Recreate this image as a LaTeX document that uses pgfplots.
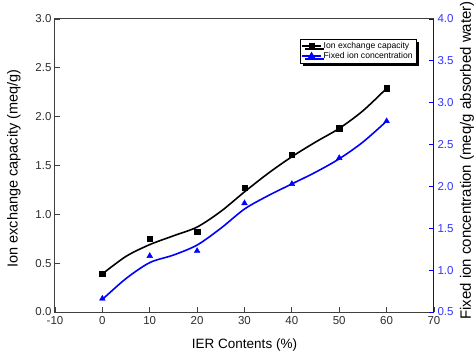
\documentclass[border=0pt]{standalone}
\usepackage{pgfplots}
\pgfplotsset{compat=1.18}
\usepackage{fontspec}
\setmainfont{Liberation Sans}
\usetikzlibrary{shadows}
\definecolor{axgray}{RGB}{64,64,64}
\definecolor{txtgray}{RGB}{45,45,45}
\begin{document}
\begin{tikzpicture}
\useasboundingbox (-55pt,-41pt) rectangle (421pt,312pt);
\begin{axis}[
  at={(0pt,0pt)}, anchor=south west,
  scale only axis, width=379pt, height=293pt,
  xmin=-10, xmax=70, ymin=0, ymax=3,
  xtick={-10,0,...,70}, ytick={0,0.5,...,3},
  /pgf/number format/fixed, /pgf/number format/fixed zerofill,
  /pgf/number format/precision=1,
  xticklabel style={/pgf/number format/precision=0, /pgf/number format/fixed zerofill=false},
  /pgf/number format/assume math mode=true,
  tick align=inside, major tick length=5pt,
  axis line style={axgray, line width=1pt},
  every tick/.style={axgray, line width=0.9pt},
  ticklabel style={font=\fontsize{11.5}{13}\selectfont, text=txtgray},
  xticklabel style={yshift=-1pt},
  xtick pos=bottom, ytick pos=left,
  xlabel={IER Contents (\%)}, ylabel={Ion exchange capacity (meq/g)},
  xlabel style={font=\fontsize{13.5}{15}\selectfont, text=black,
    at={(axis description cs:0.5,0)}, anchor=center, yshift=-33pt},
  ylabel style={font=\fontsize{14.5}{16}\selectfont, text=black,
    at={(axis description cs:0,0.5)}, anchor=center, yshift=41pt, xshift=-3pt},
  legend style={at={(0.646,0.932)}, anchor=north west, draw=black, line width=0.6pt,
    fill=white, font=\fontsize{8.6}{10}\selectfont, inner sep=1.2pt, row sep=-2pt,
    drop shadow={shadow xshift=3pt, shadow yshift=-3pt, fill=black, opacity=1},
    legend cell align=left},
  legend image code/.code={
    \draw[mark repeat=2, mark phase=2] plot coordinates {(0cm,0cm) (0.33cm,0cm) (0.66cm,0cm)};},
]
\addplot[black, line width=1.6pt, smooth, forget plot] coordinates {
(0,0.39) (5,0.57) (10,0.69) (15,0.78) (20,0.87) (25,1.03) (30,1.23) (35,1.42) (40,1.59) (45,1.74) (50,1.88) (55,2.06) (60,2.29)};
\addplot[only marks, mark=square*, mark size=2.7pt, black, forget plot] coordinates {
(0,0.39) (10,0.75) (20,0.82) (30,1.27) (40,1.61) (50,1.88) (60,2.29)};
\addlegendimage{black, line width=1.6pt, mark=square*, mark size=2.2pt}
\addlegendentry{Ion exchange capacity}
\addlegendimage{blue, line width=1.6pt, mark=triangle*, mark size=2.8pt}
\addlegendentry{Fixed ion concentration}
\end{axis}
\begin{axis}[
  at={(0pt,0pt)}, anchor=south west,
  scale only axis, width=379pt, height=293pt,
  xmin=-10, xmax=70, ymin=0.5, ymax=4,
  axis x line=none, axis y line*=right,
  ytick={0.5,1,...,4},
  /pgf/number format/fixed, /pgf/number format/fixed zerofill,
  /pgf/number format/precision=1,
  /pgf/number format/assume math mode=true,
  tick align=inside, major tick length=5pt,
  axis line style={blue, line width=1pt},
  every tick/.style={blue, line width=0.9pt},
  ticklabel style={font=\fontsize{11.5}{13}\selectfont, text={rgb,255:red,51;green,51;blue,255}},
  ylabel={Fixed ion concentration (meq/g absorbed water)},
  ylabel style={font=\fontsize{15}{17}\selectfont, text=black,
    at={(axis description cs:1,0.5)}, anchor=center, yshift=-33pt, xshift=5pt},
]
\addplot[blue, line width=1.6pt, smooth] coordinates {
(0,0.65) (5,0.90) (10,1.09) (15,1.18) (20,1.30) (25,1.50) (30,1.73) (35,1.89) (40,2.03) (45,2.17) (50,2.33) (55,2.53) (60,2.78)};
\addplot[only marks, mark=triangle*, mark size=3.3pt, blue] coordinates {
(0,0.66) (10,1.17) (20,1.23) (30,1.80) (40,2.03) (50,2.34) (60,2.78)};
\end{axis}
\end{tikzpicture}
\end{document}
